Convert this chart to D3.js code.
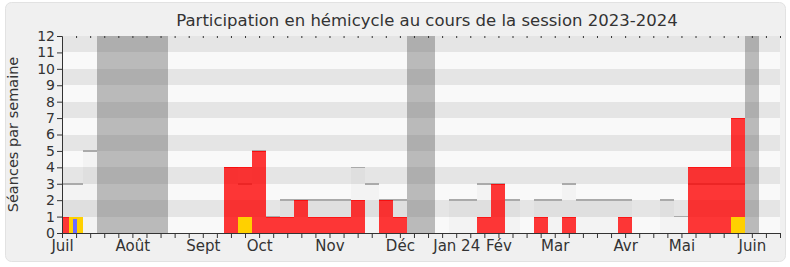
<!DOCTYPE html>
<html>
<head>
<meta charset="utf-8">
<script src="https://cdn.jsdelivr.net/npm/d3@7"></script>
<style>
  body { margin: 0; background: #fff; }
  svg { display: block; font-family: 'DejaVu Sans', sans-serif; }
</style>
</head>
<body>
<svg id="chart" width="790" height="267"></svg>
<script>
// weekly data, week 0 = first week of July 2023
const weeks = d3.range(0, 51);
const presence = [1, 0, 0, 0, 0, 0, 0, 0, 0, 0, 0, 0, 4, 4, 5, 1, 1, 2, 1, 1, 1, 2, 0, 2, 1, 0, 0, 0, 0, 0, 1, 3, 0, 0, 1, 0, 1, 0, 0, 0, 1, 0, 0, 0, 0, 4, 4, 4, 7, 0, 0];
const questions = [0, 1, 0, 0, 0, 0, 0, 0, 0, 0, 0, 0, 0, 1, 0, 0, 0, 0, 0, 0, 0, 0, 0, 0, 0, 0, 0, 0, 0, 0, 0, 0, 0, 0, 0, 0, 0, 0, 0, 0, 0, 0, 0, 0, 0, 0, 0, 0, 1, 0, 0];
const others = [3, 3, 5, 0, 0, 0, 0, 0, 0, 0, 0, 0, 4, 3, 5, 1, 2, 2, 2, 2, 2, 4, 3, 2, 2, 0, 0, 0, 2, 2, 3, 3, 2, 0, 2, 2, 3, 2, 2, 2, 2, 0, 0, 2, 1, 3, 3, 3, 3, 0, 0];
const interventions = [{ week: 1, value: 0.85 }];
const vacances = [[3, 7], [25, 26], [49, 49]];
const monthWeeks = [0, 5, 10, 14, 19, 24, 28, 31, 35, 40, 44, 49];
const monthLabels = ['Juil', 'Août', 'Sept', 'Oct', 'Nov', 'Déc', 'Jan 24', 'Fév', 'Mar', 'Avr', 'Mai', 'Juin'];
const yTicks = d3.range(0, 13);

const svg = d3.select('#chart');
const margin = { top: 36, right: 10, bottom: 34, left: 62 };
const width = 780 - margin.left;
const height = 233 - margin.top;

// background frame
svg.append('rect')
  .attr('x', 5.5).attr('y', 2.5)
  .attr('width', 780).attr('height', 259)
  .attr('rx', 6)
  .attr('fill', '#f0f0f0')
  .attr('stroke', '#e2e2e2');

const x = d3.scaleLinear().domain([0, 51]).range([0, width]);
const y = d3.scaleLinear().domain([0, 12]).range([height, 0]);
const bw = x(1) - x(0);
// snap bar edges to whole pixels so adjacent bars join without seams
const left = i => Math.round(x(i) - bw / 2);
const right = i => Math.round(x(i) + bw / 2);

const g = svg.append('g').attr('transform', `translate(${margin.left},${margin.top})`);

svg.append('defs').append('clipPath').attr('id', 'plot-clip')
  .append('rect').attr('width', width).attr('height', height);

const plot = g.append('g')
  .attr('clip-path', 'url(#plot-clip)')
  .attr('shape-rendering', 'crispEdges');

// horizontal bands
plot.selectAll('rect.band')
  .data(d3.range(0, 12))
  .join('rect')
  .attr('class', 'band')
  .attr('x', 0)
  .attr('width', width)
  .attr('y', d => y(d + 1))
  .attr('height', d => y(d) - y(d + 1))
  .attr('fill', d => (d % 2 ? '#e5e5e5' : '#f9f9f9'));

// other deputies (grey)
const otherData = weeks.filter(i => others[i] > 0);
plot.selectAll('rect.other')
  .data(otherData)
  .join('rect')
  .attr('class', 'other')
  .attr('x', left)
  .attr('width', i => right(i) - left(i))
  .attr('y', i => y(others[i]))
  .attr('height', i => y(0) - y(others[i]))
  .attr('fill', '#000')
  .attr('fill-opacity', 0.025);

plot.selectAll('line.other')
  .data(otherData)
  .join('line')
  .attr('class', 'other')
  .attr('x1', left)
  .attr('x2', right)
  .attr('y1', i => y(others[i]))
  .attr('y2', i => y(others[i]))
  .attr('stroke', '#aaa')
  .attr('stroke-width', 1.5);

// presence (red)
const presData = weeks.filter(i => presence[i] > 0);
plot.selectAll('rect.pres')
  .data(presData)
  .join('rect')
  .attr('class', 'pres')
  .attr('x', left)
  .attr('width', i => right(i) - left(i))
  .attr('y', i => y(presence[i]))
  .attr('height', i => y(0) - y(presence[i]))
  .attr('fill', '#ff0000')
  .attr('fill-opacity', 0.78);

plot.selectAll('line.pres')
  .data(presData)
  .join('line')
  .attr('class', 'pres')
  .attr('x1', left)
  .attr('x2', right)
  .attr('y1', i => y(presence[i]) + 0.5)
  .attr('y2', i => y(presence[i]) + 0.5)
  .attr('stroke', '#ff0000')
  .attr('stroke-opacity', 0.6);

// questions (yellow)
plot.selectAll('rect.quest')
  .data(weeks.filter(i => questions[i] > 0))
  .join('rect')
  .attr('class', 'quest')
  .attr('x', left)
  .attr('width', i => right(i) - left(i))
  .attr('y', i => y(questions[i]))
  .attr('height', i => y(0) - y(questions[i]))
  .attr('fill', '#ffd000');

// interventions (blue)
plot.selectAll('rect.interv')
  .data(interventions)
  .join('rect')
  .attr('class', 'interv')
  .attr('x', d => Math.round(x(d.week) - 3))
  .attr('width', 4)
  .attr('y', d => y(d.value))
  .attr('height', d => y(0) - y(d.value))
  .attr('fill', '#6b6bff');

// vacations
plot.selectAll('rect.vac')
  .data(vacances)
  .join('rect')
  .attr('class', 'vac')
  .attr('x', d => left(d[0]))
  .attr('width', d => right(d[1]) - left(d[0]))
  .attr('y', 0)
  .attr('height', height)
  .attr('fill', 'rgb(84,84,84)')
  .attr('fill-opacity', 0.38);

// axes
const labelOf = i => {
  const k = monthWeeks.indexOf(i);
  return k >= 0 ? monthLabels[k] : '';
};

const xAxis = g.append('g')
  .attr('transform', `translate(0,${height})`)
  .call(d3.axisBottom(x).tickValues(d3.range(0, 52)).tickSize(5).tickFormat(labelOf));

const xTop = g.append('g')
  .call(d3.axisTop(x).tickValues(d3.range(1, 52)).tickSize(-2).tickFormat(''));
xTop.select('.domain').remove();

const yAxis = g.append('g')
  .call(d3.axisLeft(y).tickValues(yTicks).tickSize(5).tickFormat(d3.format('d')));

[xAxis, yAxis].forEach(a => {
  a.select('.domain').attr('stroke', '#333');
  a.selectAll('.tick line').attr('stroke', '#333');
  a.selectAll('.tick text')
    .attr('fill', '#333')
    .style('font-family', "'DejaVu Sans', sans-serif");
});
xTop.selectAll('.tick line').attr('stroke', '#333');
xAxis.selectAll('.tick text')
  .style('font-size', '15px')
  .attr('dy', '0.75em')
  .attr('y', 7);
yAxis.selectAll('.tick text')
  .style('font-size', '14px')
  .attr('x', -7);

// titles
svg.append('text')
  .attr('x', 427)
  .attr('y', 26)
  .attr('text-anchor', 'middle')
  .attr('fill', '#333')
  .style('font-size', '16.5px')
  .text('Participation en hémicycle au cours de la session 2023-2024');

svg.append('text')
  .attr('transform', `translate(18,${margin.top + height / 2}) rotate(-90)`)
  .attr('text-anchor', 'middle')
  .attr('fill', '#333')
  .style('font-size', '14.5px')
  .text('Séances par semaine');
</script>
</body>
</html>
